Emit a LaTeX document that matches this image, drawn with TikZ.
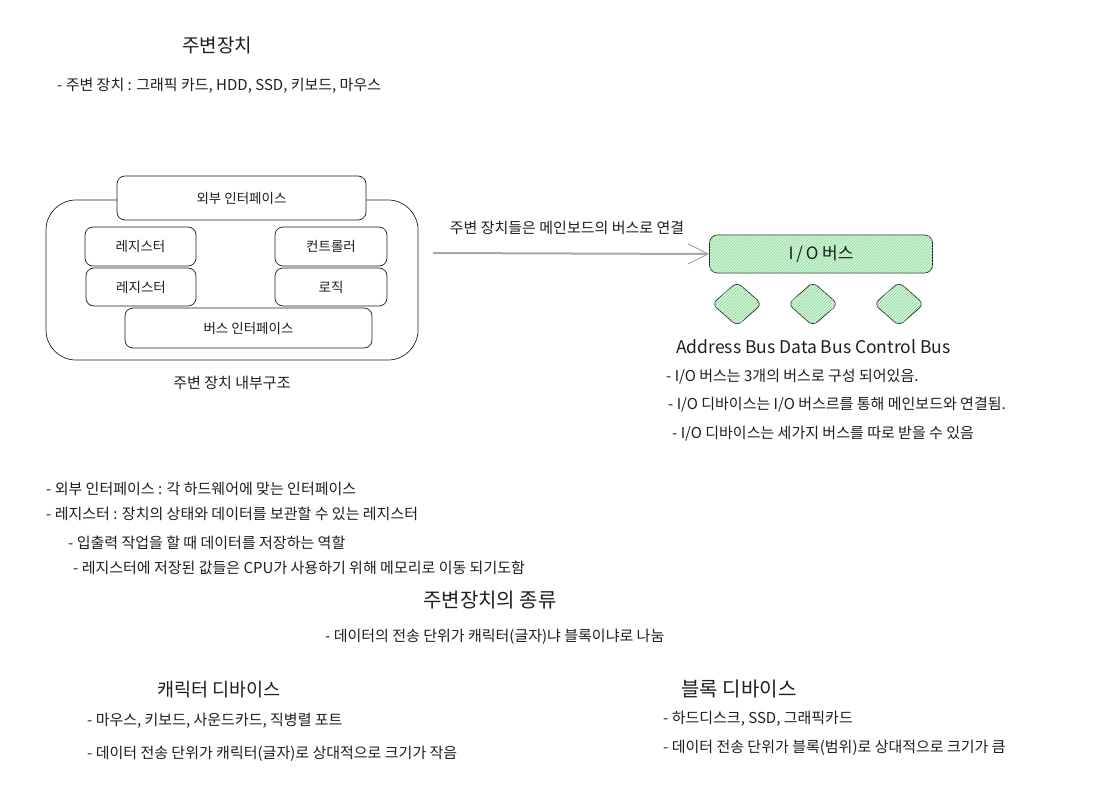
\documentclass[tikz,border=0pt]{standalone}
\usepackage{fontspec}
\setmainfont{Noto Sans CJK KR}
\usetikzlibrary{arrows.meta,patterns,shapes.geometric}
\definecolor{ink}{HTML}{1E1E1E}
\definecolor{gfill}{HTML}{D3F9D8}
\definecolor{ghatch}{HTML}{8CD49A}
\definecolor{arrowgray}{HTML}{A8A8A8}
\begin{document}
\begin{tikzpicture}[x=1pt,y=-1pt,
  txt/.style={font=\fontsize{15}{18}\selectfont, text=ink, inner sep=0pt, anchor=west},
  head/.style={font=\fontsize{19}{22}\selectfont, text=ink, inner sep=0pt},
  sub/.style={font=\fontsize{20}{24}\selectfont, text=ink, inner sep=0pt},
  box/.style={draw=ink, line width=0.7pt, rounded corners=8pt, fill=white, inner sep=0pt, font=\fontsize{13.5}{16}\selectfont, text=ink},
  gbox/.style={draw=ink, line width=0.7pt, rounded corners=8pt, fill=gfill, postaction={pattern={north east lines}, pattern color=ghatch}, inner sep=0pt, font=\fontsize{17}{20}\selectfont, text=ink},
  dia/.style={draw=ink, line width=0.7pt, fill=gfill, postaction={pattern={north east lines}, pattern color=ghatch}, diamond, rounded corners=6pt, minimum width=50pt, minimum height=44pt, inner sep=0pt}
]
\useasboundingbox (0,0) rectangle (1115,802);

% title
\node[head] (title) at (217,45) {주변장치};
\node[txt] (t1) at (57,86) {- 주변 장치 : 그래픽 카드, HDD, SSD, 키보드, 마우스};

% outer structure
\node[draw=ink, line width=0.7pt, rounded corners=30pt, minimum width=372pt, minimum height=160pt] (outer) at (232,280) {};
\node[box, minimum width=249pt, minimum height=44pt] (ext) at (241.5,198) {외부 인터페이스};
\node[box, minimum width=111pt, minimum height=39pt] (reg1) at (140.5,246.5) {레지스터};
\node[box, minimum width=110pt, minimum height=38pt] (reg2) at (141,287) {레지스터};
\node[box, minimum width=112pt, minimum height=39pt] (ctrl) at (331,246.5) {컨트롤러};
\node[box, minimum width=112pt, minimum height=38pt] (logic) at (331,287) {로직};
\node[box, minimum width=247pt, minimum height=40pt] (busif) at (248.5,328) {버스 인터페이스};
\node[txt, anchor=center] (cap) at (232,383) {주변 장치 내부구조};

% I/O bus
\node[gbox, minimum width=223pt, minimum height=38pt] (io) at (821,254) {I\,/\,O 버스};
\coordinate (astart) at (433,253);
\draw[arrowgray, line width=2pt, -{Straight Barb[length=20pt,width=20pt,line width=1pt]}] (astart) -- (io.west);
\node[txt, anchor=center] (alabel) at (567,228) {주변 장치들은 메인보드의 버스로 연결};

\node[dia] (d1) at (737,304) {};
\node[dia] (d2) at (813,304) {};
\node[dia] (d3) at (899,304) {};

\node[txt, font=\fontsize{17.5}{20}\selectfont] (buses) at (676,347) {Address Bus Data Bus Control Bus};
\node[txt] (r1) at (666,377) {- I/O 버스는 3개의 버스로 구성 되어있음.};
\node[txt] (r2) at (668,405) {- I/O 디바이스는 I/O 버스르를 통해 메인보드와 연결됨.};
\node[txt] (r3) at (672,434) {- I/O 디바이스는 세가지 버스를 따로 받을 수 있음};

% left notes
\node[txt] (l1) at (46,489) {- 외부 인터페이스 : 각 하드웨어에 맞는 인터페이스};
\node[txt] (l2) at (46,514) {- 레지스터 : 장치의 상태와 데이터를 보관할 수 있는 레지스터};
\node[txt] (l3) at (68,543) {- 입출력 작업을 할 때 데이터를 저장하는 역할};
\node[txt] (l4) at (73,568) {- 레지스터에 저장된 값들은 CPU가 사용하기 위해 메모리로 이동 되기도함};

% kinds
\node[sub, font=\fontsize{20}{24}\selectfont] (kinds) at (490,600) {주변장치의 종류};
\node[txt] (k1) at (325,637) {- 데이터의 전송 단위가 캐릭터(글자)냐 블록이냐로 나눔};

\node[sub, font=\fontsize{18.5}{22}\selectfont] (chr) at (219,690) {캐릭터 디바이스};
\node[txt] (c1) at (87,721) {- 마우스, 키보드, 사운드카드, 직병렬 포트};
\node[txt] (c2) at (87,754) {- 데이터 전송 단위가 캐릭터(글자)로 상대적으로 크기가 작음};

\node[sub] (blk) at (739,689) {블록 디바이스};
\node[txt] (b1) at (663,719) {- 하드디스크, SSD, 그래픽카드};
\node[txt] (b2) at (663,748) {- 데이터 전송 단위가 블록(범위)로 상대적으로 크기가 큼};
\end{tikzpicture}
\end{document}
